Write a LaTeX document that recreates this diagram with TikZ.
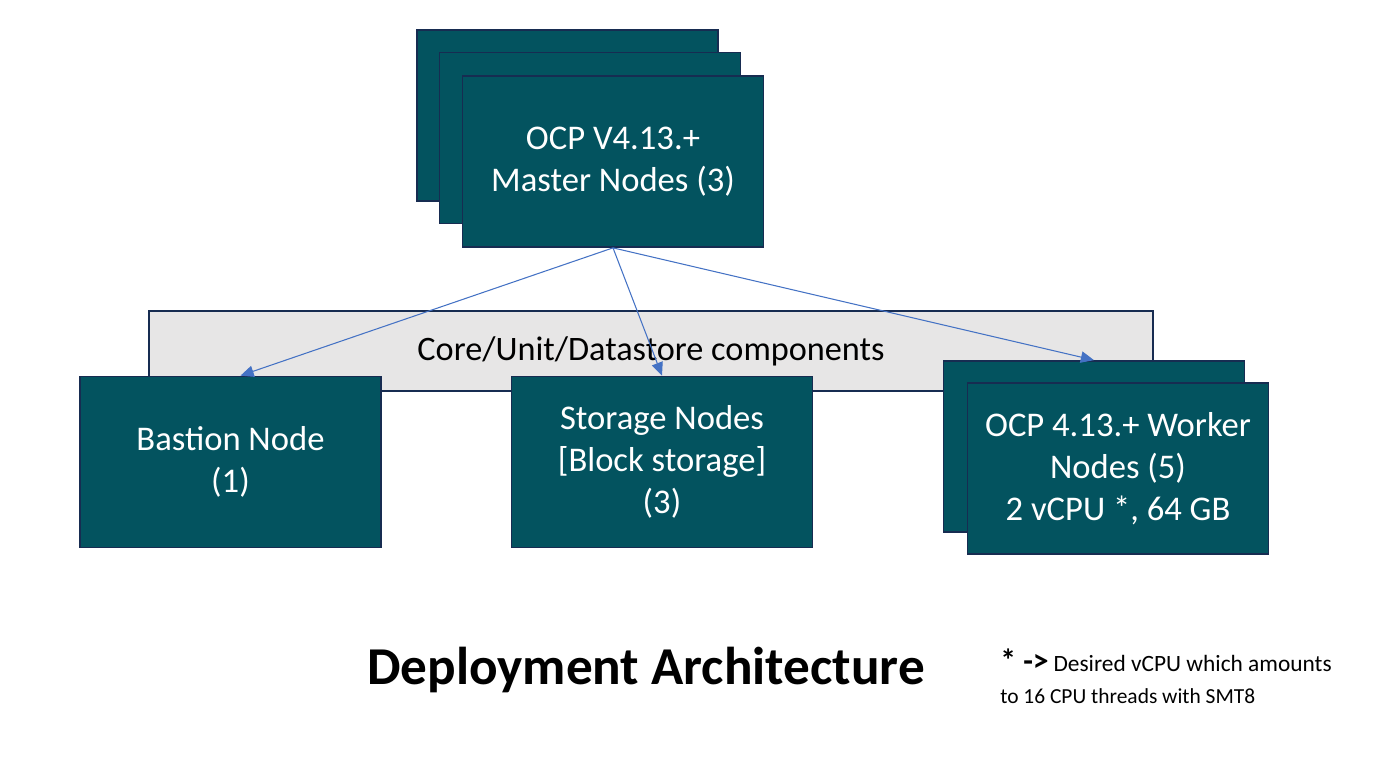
\documentclass[tikz,border=0pt]{standalone}
\usepackage{fontspec}
\setmainfont{Carlito}
\usetikzlibrary{arrows.meta,positioning,calc}
\definecolor{teal}{HTML}{03535F}
\definecolor{edge}{HTML}{172C51}
\definecolor{core}{HTML}{E7E6E6}
\definecolor{link}{HTML}{4472C4}
\begin{document}
\begin{tikzpicture}[x=0.02cm,y=-0.02cm,>={Triangle[length=7.5pt,width=6.5pt]},
 box/.style={draw=edge,line width=1pt,fill=teal,text=white,align=center,
  minimum width=6.02cm,minimum height=3.42cm,inner sep=0pt,
  font=\fontsize{19.7}{24}\selectfont},
 arr/.style={->,link,line width=0.6pt}]
\useasboundingbox (0,0) rectangle (1400,760);
% layer behind the lower boxes
\node[draw=edge,line width=1pt,fill=core,minimum width=20.08cm,minimum height=1.6cm,
 font=\fontsize{19.5}{22}\selectfont] (core) at (651,351) {Core/Unit/Datastore components};
% master stack
\node[box] (m1) at (567.5,115.5) {};
\node[box] (m2) at (590,138) {};
\node[box] (master) at (613,161.5) {OCP V4.13.+\\Master Nodes (3)};
% lower row
\node[box] (bastion) at (230.5,462) {Bastion Node\\(1)};
\node[box] (storage) at (662,462) {Storage Nodes\\{[Block storage]}\\(3)};
\node[box] (w1) at (1094,446.5) {};
\node[box] (worker) at (1118,468.5) {OCP 4.13.+ Worker\\Nodes (5)\\2 vCPU *, 64 GB};
\draw[arr] (master.south) -- ($(bastion.north)+(10,0)$);
\draw[arr] (master.south) -- (storage.north);
\draw[arr] (master.south) -- (w1.north);
\node[font=\bfseries\fontsize{30.3}{36}\selectfont] (title) at (646,670) {Deployment Architecture};
\node[anchor=west,align=left,inner sep=0pt,font=\fontsize{12.2}{18}\selectfont] (note) at (1000,676)
 {{\bfseries\fontsize{18}{18}\selectfont * ->} {\fontsize{13.3}{18}\selectfont Desired vCPU which amounts}\\to 16 CPU threads with SMT8};
\end{tikzpicture}
\end{document}
